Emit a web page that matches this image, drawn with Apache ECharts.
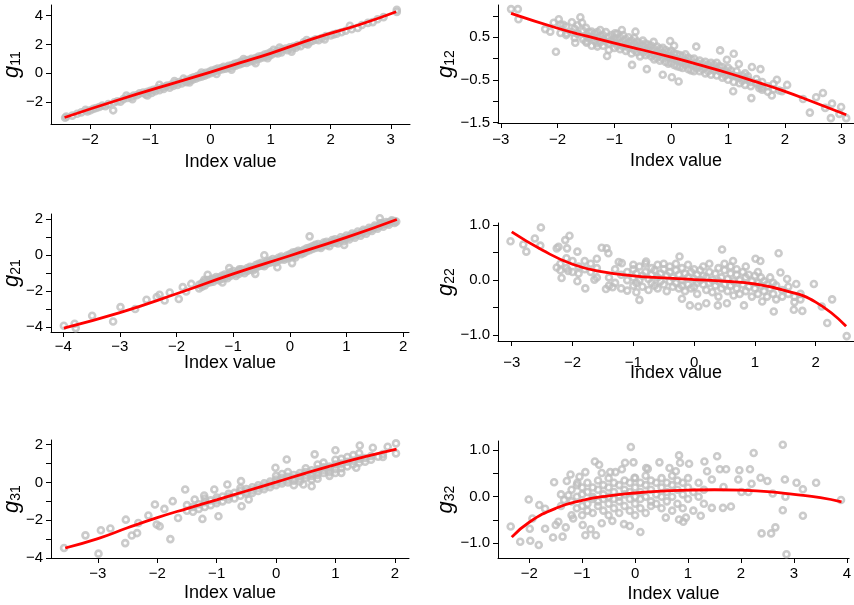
<!DOCTYPE html>
<html>
<head>
<meta charset="utf-8">
<script src="https://cdn.jsdelivr.net/npm/echarts@6/dist/echarts.min.js"></script>
<style>
  html, body { margin: 0; padding: 0; background: #fff; }
  #main { width: 854px; height: 605px; }
</style>
</head>
<body>
<div id="main"></div>
<script>
// ---- data ----
var g11Points = [
  [-2.42,-3.10],[-2.40,-3.02],[-2.30,-2.95],[-2.22,-2.82],[-2.15,-2.72],[-2.08,-2.55],[-2.05,-2.65],[-2.00,-2.58],
  [-1.95,-2.48],[-1.90,-2.42],[-1.85,-2.35],[-1.80,-2.25],[-1.75,-2.30],[-1.70,-2.15],[-1.62,-2.58],[-1.60,-2.02],
  [-1.55,-1.95],[-1.50,-1.98],[-1.45,-1.80],[-1.40,-1.55],[-1.38,-1.72],[-1.32,-1.65],[-1.28,-1.55],[-1.22,-1.52],
  [-1.18,-1.40],[-1.12,-1.35],[-1.08,-1.48],[-1.05,-1.30],[-1.00,-1.22],[-0.98,-1.38],[-0.95,-1.15],[-0.92,-1.25],
  [-0.88,-1.05],[-0.85,-1.18],[-0.80,-0.98],[-0.78,-1.10],[-0.75,-0.92],[-0.72,-0.85],[-0.68,-1.00],[-0.65,-0.78],
  [-0.62,-0.88],[-0.58,-0.70],[-0.55,-0.82],[-0.52,-0.62],[-0.48,-0.72],[-0.45,-0.38],[-0.42,-0.55],[-0.40,-0.62],
  [-0.38,-0.45],[-0.35,-0.52],[-0.32,-0.35],[-0.30,-0.45],[-0.28,-0.28],[-0.25,-0.38],[-0.22,-0.20],[-0.20,-0.30],
  [-0.18,-0.15],[-0.15,-0.25],[-0.12,-0.08],[-0.10,-0.18],[-0.08,0.02],[-0.05,-0.08],[-0.02,0.10],[0.00,0.00],
  [0.02,0.18],[0.05,0.08],[0.08,0.25],[0.10,0.15],[0.12,0.32],[0.15,0.22],[0.18,0.35],[0.20,0.28],[0.22,0.45],
  [0.25,0.32],[0.28,0.40],[0.30,0.52],[0.32,0.38],[0.35,0.55],[0.38,0.48],[0.40,0.65],[0.42,0.52],[0.45,0.70],
  [0.48,0.60],[0.50,0.80],[0.52,0.68],[0.55,0.75],[0.58,0.88],[0.60,0.72],[0.62,0.92],[0.65,0.82],[0.68,1.00],
  [0.70,0.90],[0.72,0.85],[0.75,1.05],[0.78,0.98],[0.80,1.15],[0.82,1.02],[0.85,1.20],[0.88,1.10],[0.90,1.30],
  [0.92,1.18],[0.95,1.35],[0.98,1.22],[1.00,1.45],[1.02,1.30],[1.05,1.62],[1.08,1.40],[1.10,1.52],[1.12,1.38],
  [1.15,1.58],[1.18,1.45],[1.20,1.65],[1.25,1.72],[1.28,1.60],[1.32,1.80],[1.35,1.68],[1.38,1.85],[1.42,1.78],
  [1.45,1.95],[1.50,1.88],[1.55,2.15],[1.58,2.05],[1.62,2.00],[1.65,2.18],[1.70,2.25],[1.75,2.35],[1.80,2.30],
  [1.85,2.45],[1.92,2.58],[2.00,2.62],[2.05,2.70],[2.10,2.75],[2.18,2.85],[2.25,2.95],[2.32,3.30],[2.35,3.05],
  [2.45,3.15],[2.52,3.35],[2.62,3.50],[2.70,3.55],[2.78,3.75],[2.88,3.90],[3.10,4.40],[3.10,4.25],
  [-1.30,-1.80],[-1.05,-1.55],[-0.85,-0.80],[-0.60,-0.55],[-0.35,-0.65],[-0.15,0.05],[0.10,-0.05],[0.35,0.25],
  [0.55,0.98],[0.75,0.70],[0.95,1.05],[1.15,1.78],[1.35,1.50],[1.60,2.30],[1.90,2.35]
];
var g11Fit = [[-2.43,-3.08],[-1.55,-1.88],[-0.5,-0.55],[0,0.08],[0.5,0.73],[1,1.38],[1.75,2.45],[2.5,3.4],[3.09,4.27]];

var g12Points = [
  [-2.82,1.16],[-2.70,1.16],[-2.69,0.92],[-2.22,0.69],[-2.13,0.63],[-2.03,0.16],[-1.98,0.92],[-2.07,0.84],
  [-1.90,0.79],[-1.84,0.59],[-1.60,0.97],[-1.57,0.84],[-1.66,0.59],[-1.69,0.37],[-1.49,0.37],[-1.40,0.63],
  [-1.25,0.67],[-1.31,0.36],[-1.13,0.06],[-0.99,0.59],[-0.87,0.67],[-0.63,0.63],[-0.69,-0.15],[-0.43,-0.25],
  [-0.31,0.39],[-0.15,-0.38],[-0.02,0.41],[0.13,-0.54],[0.01,-0.44],[0.44,0.28],[0.86,0.19],[0.98,-0.03],
  [1.10,0.11],[1.09,-0.77],[1.19,-0.13],[1.42,-0.20],[1.41,-0.93],[1.57,-0.25],[1.60,-0.73],[1.86,-0.50],
  [1.77,-0.87],[1.95,-0.77],[2.04,-0.62],[2.32,-0.95],[2.44,-1.27],[2.55,-0.91],[2.67,-0.81],[2.83,-1.06],
  [2.81,-1.40],[2.96,-1.30],[2.99,-1.14],[3.08,-1.40],[2.71,-1.16],
  [-1.95,0.80],[-1.95,0.60],[-1.85,0.75],[-1.85,0.55],[-1.75,0.62],[-1.75,0.85],[-1.70,0.70],[-1.70,0.48],
  [-1.65,0.58],[-1.65,0.78],[-1.55,0.65],[-1.55,0.45],[-1.50,0.55],[-1.50,0.72],[-1.50,0.40],[-1.45,0.62],
  [-1.45,0.48],[-1.40,0.50],[-1.40,0.30],[-1.35,0.58],[-1.35,0.42],[-1.30,0.48],[-1.30,0.62],[-1.30,0.28],
  [-1.25,0.52],[-1.25,0.38],[-1.20,0.45],[-1.20,0.55],[-1.20,0.30],[-1.15,0.40],[-1.15,0.62],[-1.10,0.50],
  [-1.10,0.35],[-1.10,0.20],[-1.05,0.42],[-1.05,0.55],[-1.00,0.38],[-1.00,0.48],[-1.00,0.25],[-0.95,0.45],
  [-0.95,0.30],[-0.95,0.58],[-0.90,0.35],[-0.90,0.50],[-0.90,0.22],[-0.85,0.40],[-0.85,0.28],[-0.85,0.55],
  [-0.80,0.32],[-0.80,0.45],[-0.80,0.18],[-0.75,0.38],[-0.75,0.25],[-0.75,0.50],[-0.70,0.30],[-0.70,0.42],
  [-0.70,0.12],[-0.65,0.35],[-0.65,0.20],[-0.65,0.48],[-0.60,0.28],[-0.60,0.40],[-0.60,0.15],[-0.55,0.22],
  [-0.55,0.35],[-0.55,0.05],[-0.50,0.30],[-0.50,0.15],[-0.50,0.42],[-0.45,0.20],[-0.45,0.08],[-0.45,0.35],
  [-0.40,0.25],[-0.40,0.12],[-0.40,0.32],[-0.35,0.18],[-0.35,0.05],[-0.35,0.30],[-0.30,0.22],[-0.30,0.10],
  [-0.30,-0.02],[-0.25,0.15],[-0.25,0.28],[-0.25,0.02],[-0.20,0.10],[-0.20,0.22],[-0.20,-0.05],[-0.15,0.12],
  [-0.15,0.00],[-0.15,0.25],[-0.10,0.08],[-0.10,-0.08],[-0.10,0.20],[-0.05,0.05],[-0.05,0.15],[-0.05,-0.12],
  [0.00,0.02],[0.00,0.18],[0.00,-0.10],[0.05,0.00],[0.05,0.12],[0.05,-0.15],[0.05,0.30],[0.10,-0.02],
  [0.10,0.10],[0.10,-0.18],[0.15,-0.05],[0.15,0.08],[0.15,-0.20],[0.20,-0.08],[0.20,0.05],[0.20,-0.22],
  [0.25,-0.05],[0.25,-0.15],[0.25,0.10],[0.30,-0.10],[0.30,0.02],[0.30,-0.25],[0.35,-0.12],[0.35,-0.02],
  [0.35,-0.28],[0.40,-0.15],[0.40,0.00],[0.40,-0.30],[0.45,-0.10],[0.45,-0.22],[0.50,-0.18],[0.50,-0.05],
  [0.50,-0.30],[0.55,-0.12],[0.55,-0.25],[0.60,-0.20],[0.60,-0.08],[0.60,-0.35],[0.65,-0.15],[0.65,-0.30],
  [0.70,-0.22],[0.70,-0.10],[0.70,-0.38],[0.75,-0.28],[0.75,-0.15],[0.80,-0.25],[0.80,-0.40],[0.80,-0.10],
  [0.85,-0.30],[0.85,-0.18],[0.90,-0.32],[0.90,-0.45],[0.90,-0.20],[0.95,-0.28],[0.95,-0.40],[1.00,-0.35],
  [1.00,-0.22],[1.00,-0.50],[1.05,-0.38],[1.05,-0.28],[1.10,-0.40],[1.10,-0.55],[1.15,-0.42],[1.15,-0.30],
  [1.20,-0.45],[1.20,-0.58],[1.25,-0.40],[1.25,-0.52],[1.30,-0.48],[1.30,-0.62],[1.30,-0.35],[1.35,-0.50],
  [1.35,-0.42],[1.40,-0.55],[1.40,-0.65],[1.50,-0.58],[1.50,-0.48],[1.55,-0.62],[1.55,-0.70],[1.60,-0.55],
  [1.60,-0.68],[1.70,-0.65],[1.70,-0.78],[1.80,-0.72],[1.80,-0.60],[1.90,-0.75]
];
var g12Fit = [[-2.82,1.06],[-2,0.71],[-1.5,0.53],[-1,0.36],[-0.5,0.2],[0,0.03],[0.5,-0.15],[1,-0.34],[1.5,-0.55],[2,-0.77],[2.5,-1.02],[3.08,-1.32]];

var g21Points = [
  [-3.99,-3.93],[-3.80,-3.82],[-3.78,-4.06],[-3.49,-3.37],[-3.12,-3.69],[-2.99,-2.89],[-2.73,-3.00],[-2.53,-2.48],
  [-2.35,-2.33],[-2.30,-2.20],[-2.21,-2.52],[-2.12,-2.08],[-1.96,-2.44],[-1.89,-1.78],[-1.74,-1.60],[-1.83,-2.02],
  [-1.51,-1.37],[-1.45,-1.09],[-1.19,-1.52],[-1.07,-0.72],[-0.89,-0.78],[-0.61,-1.04],[-0.45,0.00],[-0.22,-0.67],
  [0.04,-0.44],[0.35,1.05],[0.96,0.57],[1.61,1.78],[1.88,1.87],[1.59,2.06],
  [-1.60,-1.65],[-1.60,-1.85],[-1.55,-1.55],[-1.55,-1.75],[-1.50,-1.45],[-1.50,-1.68],[-1.45,-1.55],[-1.45,-1.38],
  [-1.40,-1.50],[-1.40,-1.35],[-1.35,-1.30],[-1.35,-1.48],[-1.30,-1.35],[-1.30,-1.22],[-1.25,-1.40],[-1.25,-1.25],
  [-1.20,-1.15],[-1.20,-1.32],[-1.15,-1.25],[-1.15,-1.08],[-1.10,-1.12],[-1.10,-1.28],[-1.05,-0.95],[-1.05,-1.15],
  [-1.00,-1.05],[-1.00,-0.88],[-0.95,-1.00],[-0.95,-1.15],[-0.90,-0.85],[-0.90,-1.05],[-0.85,-0.92],[-0.85,-0.78],
  [-0.80,-0.85],[-0.80,-1.00],[-0.75,-0.72],[-0.75,-0.88],[-0.70,-0.80],[-0.70,-0.65],[-0.65,-0.68],[-0.65,-0.85],
  [-0.60,-0.55],[-0.60,-0.72],[-0.55,-0.62],[-0.55,-0.48],[-0.50,-0.58],[-0.50,-0.42],[-0.45,-0.50],[-0.45,-0.62],
  [-0.40,-0.35],[-0.40,-0.48],[-0.35,-0.42],[-0.35,-0.30],[-0.30,-0.38],[-0.30,-0.22],[-0.25,-0.28],[-0.25,-0.40],
  [-0.20,-0.15],[-0.20,-0.30],[-0.15,-0.22],[-0.15,-0.08],[-0.10,-0.15],[-0.10,-0.25],[-0.05,-0.02],[-0.05,-0.18],
  [0.00,0.05],[0.00,-0.10],[0.05,0.15],[0.05,-0.05],[0.10,0.02],[0.10,0.18],[0.10,-0.12],[0.15,0.10],[0.15,0.25],
  [0.20,0.20],[0.20,0.05],[0.25,0.30],[0.25,0.12],[0.30,0.22],[0.30,0.38],[0.35,0.28],[0.35,0.42],[0.40,0.35],
  [0.40,0.50],[0.45,0.40],[0.45,0.58],[0.50,0.45],[0.50,0.62],[0.55,0.50],[0.55,0.40],[0.60,0.58],[0.60,0.70],
  [0.65,0.55],[0.65,0.75],[0.70,0.68],[0.70,0.50],[0.75,0.72],[0.75,0.85],[0.80,0.70],[0.80,0.88],[0.85,0.82],
  [0.85,0.65],[0.90,0.85],[0.90,1.00],[0.95,0.92],[0.95,0.78],[1.00,0.95],[1.00,1.10],[1.05,1.02],[1.05,0.88],
  [1.10,1.08],[1.10,1.20],[1.15,1.12],[1.15,0.98],[1.20,1.18],[1.20,1.32],[1.25,1.22],[1.25,1.08],[1.30,1.30],
  [1.30,1.42],[1.35,1.35],[1.35,1.20],[1.40,1.40],[1.40,1.52],[1.45,1.48],[1.45,1.35],[1.50,1.55],[1.50,1.65],
  [1.55,1.60],[1.55,1.48],[1.60,1.65],[1.60,1.78],[1.65,1.72],[1.65,1.58],[1.70,1.75],[1.70,1.85],[1.75,1.82],
  [1.75,1.70],[1.80,1.88],[1.80,1.95],[1.85,1.90],[1.85,1.80]
];
var g21Fit = [[-3.99,-4.06],[-3,-3.2],[-2,-2.15],[-1,-1.04],[0,-0.03],[1,0.99],[1.89,1.99]];

var g22Points = [
  [-3.02,0.71],[-2.81,0.65],[-2.76,0.52],[-2.62,0.76],[-2.53,0.63],[-2.52,0.96],[-2.26,0.58],[-2.26,0.23],
  [-2.23,0.61],[-2.12,0.73],[-2.05,0.81],[-2.09,0.58],[-2.18,0.04],[-2.07,0.17],[-1.92,0.52],[-1.92,-0.02],
  [-1.79,-0.15],[-1.64,0.01],[-1.60,0.39],[-1.52,0.59],[-1.44,0.58],[-1.41,0.49],[-1.45,-0.16],[-1.34,-0.13],
  [-1.24,0.33],[-1.19,0.31],[-1.10,-0.19],[-1.00,0.28],[-0.95,-0.22],[-0.90,-0.36],[-0.79,0.34],[-0.20,-0.34],
  [-0.24,0.43],[-0.07,-0.46],[0.07,-0.48],[0.20,-0.42],[0.39,-0.46],[0.46,0.56],[0.54,-0.42],[0.64,0.35],
  [0.82,-0.46],[1.01,0.39],[1.09,0.35],[1.12,-0.39],[1.39,0.49],[1.31,-0.57],[1.42,0.14],[1.53,0.02],
  [1.68,-0.07],[1.64,-0.54],[1.78,-0.56],[1.97,-0.07],[2.10,-0.48],[2.27,-0.35],[2.19,-0.78],[2.51,-1.02],
  [-1.40,0.05],[-1.40,-0.10],[-1.30,0.20],[-1.30,-0.05],[-1.20,0.10],[-1.20,-0.15],[-1.10,0.15],[-1.10,0.00],
  [-1.00,0.05],[-1.00,0.20],[-1.00,-0.10],[-0.95,0.12],[-0.95,-0.05],[-0.90,0.25],[-0.90,0.00],[-0.85,0.08],
  [-0.85,-0.12],[-0.80,0.15],[-0.80,0.30],[-0.75,0.02],[-0.75,-0.18],[-0.70,0.10],[-0.70,0.22],[-0.70,-0.05],
  [-0.65,0.18],[-0.65,-0.10],[-0.60,0.05],[-0.60,0.28],[-0.60,-0.15],[-0.55,0.12],[-0.55,-0.02],[-0.50,0.20],
  [-0.50,-0.08],[-0.50,0.30],[-0.45,0.08],[-0.45,-0.20],[-0.40,0.15],[-0.40,-0.02],[-0.40,0.25],[-0.35,0.05],
  [-0.35,-0.12],[-0.30,0.18],[-0.30,-0.05],[-0.30,0.30],[-0.25,0.10],[-0.25,-0.15],[-0.20,0.00],[-0.20,0.22],
  [-0.20,-0.10],[-0.15,0.12],[-0.15,-0.20],[-0.10,0.05],[-0.10,0.28],[-0.10,-0.08],[-0.05,0.15],[-0.05,-0.15],
  [0.00,0.02],[0.00,0.20],[0.00,-0.12],[0.05,0.10],[0.05,-0.05],[0.05,-0.25],[0.10,0.18],[0.10,0.00],
  [0.15,-0.08],[0.15,0.25],[0.15,0.08],[0.20,0.05],[0.20,-0.18],[0.25,0.15],[0.25,-0.05],[0.25,0.30],
  [0.30,0.00],[0.30,-0.22],[0.35,0.12],[0.35,-0.10],[0.40,0.22],[0.40,-0.02],[0.40,-0.30],[0.45,0.05],
  [0.45,-0.15],[0.50,0.18],[0.50,-0.08],[0.50,0.30],[0.55,0.02],[0.55,-0.20],[0.60,0.12],[0.60,-0.10],
  [0.60,0.25],[0.65,-0.02],[0.65,-0.28],[0.70,0.10],[0.70,-0.15],[0.70,0.20],[0.75,0.00],[0.75,-0.25],
  [0.80,0.15],[0.80,-0.08],[0.85,0.05],[0.85,-0.20],[0.85,0.25],[0.90,-0.12],[0.90,0.10],[0.95,-0.02],
  [0.95,-0.30],[1.00,0.08],[1.00,-0.15],[1.05,-0.05],[1.05,-0.25],[1.05,0.15],[1.10,-0.10],[1.10,0.05],
  [1.15,-0.20],[1.15,-0.02],[1.20,-0.08],[1.20,-0.30],[1.25,-0.15],[1.25,0.05],[1.30,-0.25],[1.30,-0.05],
  [1.35,-0.10],[1.35,-0.35],[1.45,-0.18],[1.45,-0.30],[1.55,-0.25],[1.55,-0.12],[1.65,-0.30],[1.65,-0.40],
  [1.75,-0.35],[1.75,-0.25],[-1.60,0.22],[-1.60,0.05],[-1.70,0.30],[-1.70,0.15],[-1.80,0.20],[-1.80,0.35],
  [-1.90,0.25],[-1.90,0.12],[-2.00,0.35],[-2.00,0.15],[-2.10,0.40],[-2.10,0.22],[-2.20,0.30],[-2.20,0.18]
];
var g22Fit = [[-3,0.88],[-2.5,0.55],[-2,0.29],[-1.5,0.15],[-1,0.08],[-0.5,0.04],[0,0.01],[0.5,-0.02],[1,-0.07],[1.5,-0.19],[2,-0.4],[2.5,-0.84]];

var g31Points = [
  [-3.57,-3.47],[-3.21,-2.80],[-2.99,-3.77],[-2.95,-2.53],[-2.79,-2.44],[-2.54,-3.21],[-2.53,-1.97],[-2.43,-2.81],
  [-2.34,-2.68],[-2.32,-2.15],[-2.15,-1.75],[-2.04,-1.17],[-2.01,-2.23],[-1.96,-2.32],[-1.78,-3.00],[-1.88,-1.40],
  [-1.74,-0.99],[-1.65,-1.88],[-1.53,-0.37],[-1.37,-0.90],[-1.24,-1.93],[-1.21,-0.69],[-1.04,-0.37],[-0.97,-1.79],
  [-0.82,-0.11],[-0.58,-1.26],[-0.59,0.07],[-0.46,-0.90],[0.18,1.22],[-0.01,0.78],[0.46,-0.11],[0.65,1.49],
  [1.00,1.71],[1.41,1.96],[1.63,1.84],[1.88,1.89],[2.02,2.07],[2.02,1.54],[1.72,1.36],[1.10,0.51],[1.35,0.78],
  [0.60,-0.20],
  [-1.50,-1.50],[-1.50,-1.20],[-1.40,-1.30],[-1.40,-1.55],[-1.30,-1.15],[-1.30,-1.40],[-1.20,-1.05],[-1.20,-1.30],
  [-1.20,-0.85],[-1.10,-0.95],[-1.10,-1.20],[-1.00,-0.80],[-1.00,-1.10],[-1.00,-0.95],[-0.90,-0.75],[-0.90,-1.00],
  [-0.80,-0.60],[-0.80,-0.90],[-0.80,-0.75],[-0.70,-0.55],[-0.70,-0.85],[-0.60,-0.45],[-0.60,-0.70],[-0.60,-0.30],
  [-0.50,-0.35],[-0.50,-0.60],[-0.50,-0.50],[-0.40,-0.25],[-0.40,-0.55],[-0.40,-0.40],[-0.30,-0.15],[-0.30,-0.45],
  [-0.30,-0.30],[-0.20,-0.05],[-0.20,-0.35],[-0.20,-0.20],[-0.10,0.05],[-0.10,-0.25],[-0.10,-0.10],[0.00,0.15],
  [0.00,-0.15],[0.00,0.35],[0.00,0.00],[0.10,0.25],[0.10,-0.05],[0.10,0.10],[0.10,0.45],[0.20,0.30],[0.20,0.00],
  [0.20,0.15],[0.20,0.55],[0.30,0.40],[0.30,0.10],[0.30,0.25],[0.30,-0.15],[0.40,0.50],[0.40,0.20],[0.40,0.35],
  [0.40,0.05],[0.50,0.55],[0.50,0.25],[0.50,0.40],[0.50,0.75],[0.60,0.65],[0.60,0.35],[0.60,0.50],[0.60,0.15],
  [0.70,0.70],[0.70,0.40],[0.70,0.55],[0.70,0.95],[0.70,0.20],[0.80,0.80],[0.80,0.50],[0.80,0.65],[0.80,1.05],
  [0.90,0.85],[0.90,0.55],[0.90,0.75],[0.90,0.35],[1.00,0.95],[1.00,0.70],[1.00,1.20],[1.00,0.50],[1.10,1.00],
  [1.10,0.75],[1.10,1.25],[1.20,1.10],[1.20,0.85],[1.20,1.35],[1.30,1.15],[1.30,0.95],[1.30,1.45],[1.40,1.25],
  [1.40,1.05],[1.40,1.55],[1.50,1.30],[1.50,1.10],[1.60,1.40],[1.60,1.20],[1.80,1.50],[1.80,1.35]
];
var g31Fit = [[-3.55,-3.47],[-3,-2.97],[-2.5,-2.4],[-2,-1.86],[-1.5,-1.38],[-1,-0.92],[-0.5,-0.45],[0,0.02],[0.5,0.5],[1,0.95],[1.5,1.37],[2.03,1.77]];

var g32Points = [
  [-2.35,-0.64],[-2.17,-0.97],[-1.98,-0.95],[-1.99,-0.69],[-2.01,-0.06],[-1.94,-0.47],[-1.82,-1.04],[-1.81,-0.18],
  [-1.70,-0.69],[-1.70,-0.26],[-1.55,-0.88],[-1.53,0.31],[-1.50,-0.61],[-1.45,-0.54],[-1.37,-0.86],[-1.34,-0.07],
  [-1.31,-0.66],[-1.29,0.34],[-1.26,0.03],[-1.22,0.48],[-1.17,-0.47],[-1.09,0.30],[-1.05,0.43],[-0.99,-0.61],
  [-0.94,0.53],[-0.94,-0.83],[-0.84,-0.70],[-0.76,0.76],[-0.74,-0.83],[-0.68,0.69],[-0.63,-0.57],[-0.63,0.51],
  [-0.47,0.53],[-0.43,-0.52],[-0.37,0.53],[-0.25,0.59],[-0.21,-0.59],[-0.19,0.73],[-0.10,-0.63],[-0.08,1.07],
  [-0.03,0.74],[-0.01,0.41],[0.10,-0.76],[0.21,0.62],[0.24,0.60],[0.46,0.74],[0.58,-0.45],[0.65,0.62],
  [0.77,0.55],[0.83,0.89],[0.85,0.73],[0.83,-0.49],[0.91,-0.54],[0.96,-0.45],[1.02,0.71],[1.24,-0.41],
  [1.31,0.76],[1.36,0.55],[1.45,0.37],[1.45,-0.24],[1.55,0.87],[1.60,0.59],[1.67,0.21],[1.66,-0.24],
  [1.72,0.59],[1.81,-0.21],[1.95,0.37],[1.97,0.57],[2.01,0.10],[2.14,0.10],[2.17,0.59],[2.20,0.28],
  [2.24,0.94],[2.37,0.41],[2.39,-0.79],[2.50,0.34],[2.57,-0.79],[2.60,0.07],[2.65,-0.66],[2.79,1.12],
  [2.79,-0.29],[2.83,0.37],[2.84,0.00],[2.86,-1.24],[3.05,0.30],[3.17,0.16],[3.17,-0.41],[3.42,0.30],
  [3.89,-0.07],
  [-1.00,-0.20],[-1.00,0.05],[-1.00,-0.40],[-1.00,0.20],[-0.90,0.10],[-0.90,-0.15],[-0.90,-0.30],[-0.90,0.30],
  [-0.80,-0.05],[-0.80,0.20],[-0.80,-0.35],[-0.80,0.00],[-0.70,0.15],[-0.70,-0.20],[-0.70,0.35],[-0.70,-0.10],
  [-0.60,0.05],[-0.60,-0.30],[-0.60,0.25],[-0.60,-0.05],[-0.50,0.20],[-0.50,-0.15],[-0.50,0.40],[-0.50,0.00],
  [-0.50,-0.40],[-0.40,0.10],[-0.40,-0.25],[-0.40,0.30],[-0.40,-0.05],[-0.30,0.25],[-0.30,-0.10],[-0.30,0.00],
  [-0.30,-0.35],[-0.20,0.15],[-0.20,-0.20],[-0.20,0.35],[-0.20,0.05],[-0.10,0.30],[-0.10,-0.05],[-0.10,0.10],
  [-0.10,-0.30],[0.00,0.20],[0.00,-0.15],[0.00,0.40],[0.00,0.00],[0.00,-0.40],[0.10,0.10],[0.10,-0.25],
  [0.10,0.30],[0.10,-0.05],[0.20,0.25],[0.20,0.00],[0.20,-0.35],[0.20,0.45],[0.30,0.15],[0.30,-0.10],
  [0.30,0.35],[0.30,-0.20],[0.40,0.05],[0.40,0.30],[0.40,-0.15],[0.50,0.20],[0.50,-0.25],[0.50,0.40],
  [0.50,0.00],[0.60,0.10],[0.60,-0.10],[0.60,0.30],[0.70,0.25],[0.70,0.00],[0.70,-0.30],[0.70,0.45],
  [0.80,0.15],[0.80,-0.15],[0.80,0.35],[0.90,0.05],[0.90,0.30],[0.90,-0.25],[1.00,0.20],[1.00,-0.05],
  [1.00,0.40],[1.10,0.10],[1.10,-0.30],[1.20,0.30],[1.20,0.00],[1.30,0.15],[1.30,-0.15],[-1.20,-0.10],
  [-1.20,0.15],[-1.20,-0.40],[-1.10,0.00],[-1.10,-0.25],[-1.10,0.25],[-1.40,-0.20],[-1.40,0.05]
];
var g32Fit = [[-2.33,-0.87],[-2,-0.55],[-1.5,-0.25],[-1,-0.08],[-0.5,0.02],[0,0.08],[0.5,0.12],[1,0.14],[1.5,0.15],[2,0.14],[2.5,0.11],[3,0.05],[3.5,-0.02],[3.9,-0.11]];

// tick positions
var g11XTicks = [-2, -1, 0, 1, 2, 3],  g11YTicks = [-2, 0, 2, 4],           g11YLabels = [-2, 0, 2, 4];
var g12XTicks = [-3, -2, -1, 0, 1, 2, 3], g12YTicks = [-1.5, -1, -0.5, 0, 0.5, 1], g12YLabels = [-1.5, -0.5, 0.5];
var g21XTicks = [-4, -3, -2, -1, 0, 1, 2], g21YTicks = [-4, -3, -2, -1, 0, 1, 2], g21YLabels = [-4, -2, 0, 2];
var g22XTicks = [-3, -2, -1, 0, 1, 2], g22YTicks = [-1, -0.5, 0, 0.5, 1], g22YLabels = [-1, 0, 1];
var g31XTicks = [-3, -2, -1, 0, 1, 2], g31YTicks = [-4, -3, -2, -1, 0, 1, 2], g31YLabels = [-4, -2, 0, 2];
var g32XTicks = [-2, -1, 0, 1, 2, 3, 4], g32YTicks = [-1, -0.5, 0, 0.5, 1], g32YLabels = [-1, 0, 1];

// ---- layout ----
var FONT = '"Liberation Sans", Arial, Helvetica, sans-serif';

function fmt(dec) {
  return function (v) {
    var s = Math.abs(v).toFixed(dec);
    return (v < 0 ? '\u2212' : '') + s;
  };
}

var panels = [
  { sub: '11', pts: g11Points, fit: g11Fit, xt: g11XTicks, yt: g11YTicks, yl: g11YLabels, dec: 0, ygap: 28,
    grid: { left: 48, top: 5, width: 362, height: 119 }, xr: [-2.655, 3.32], yr: [-3.53, 4.74], gap: 29, lm: 8 },
  { sub: '12', pts: g12Points, fit: g12Fit, xt: g12XTicks, yt: g12YTicks, yl: g12YLabels, dec: 1, ygap: 41,
    grid: { left: 498, top: 5, width: 356, height: 118 }, xr: [-3.05, 3.217], yr: [-1.514, 1.256], gap: 29, lm: 9 },
  { sub: '21', pts: g21Points, fit: g21Fit, xt: g21XTicks, yt: g21YTicks, yl: g21YLabels, dec: 0, ygap: 28,
    grid: { left: 48, top: 214, width: 361, height: 118 }, xr: [-4.217, 2.105], yr: [-4.278, 2.294], gap: 22, lm: 7 },
  { sub: '22', pts: g22Points, fit: g22Fit, xt: g22XTicks, yt: g22YTicks, yl: g22YLabels, dec: 1, ygap: 41,
    grid: { left: 498, top: 223, width: 356, height: 118 }, xr: [-3.226, 2.63], yr: [-1.109, 1.042], gap: 23, lm: 14 },
  { sub: '31', pts: g31Points, fit: g31Fit, xt: g31XTicks, yt: g31YTicks, yl: g31YLabels, dec: 0, ygap: 28,
    grid: { left: 48, top: 440, width: 361, height: 118 }, xr: [-3.79, 2.239], yr: [-4.0, 2.25], gap: 26, lm: 8 },
  { sub: '32', pts: g32Points, fit: g32Fit, xt: g32XTicks, yt: g32YTicks, yl: g32YLabels, dec: 1, ygap: 41,
    grid: { left: 498, top: 441, width: 356, height: 117 }, xr: [-2.59, 4.043], yr: [-1.32, 1.2], gap: 27, lm: 8 }
];

var axisLine = { show: true, onZero: false, lineStyle: { color: '#000', width: 1 } };
var option = { animation: false, backgroundColor: '#fff', grid: [], xAxis: [], yAxis: [], series: [] };

panels.forEach(function (p, i) {
  option.grid.push({ left: p.grid.left, top: p.grid.top, width: p.grid.width, height: p.grid.height, containLabel: false });
  option.xAxis.push({
    gridIndex: i, type: 'value', min: p.xr[0], max: p.xr[1],
    axisLine: axisLine, splitLine: { show: false },
    axisTick: { show: true, length: 5, customValues: p.xt, lineStyle: { color: '#000' } },
    axisLabel: { customValues: p.xt, formatter: fmt(0), margin: p.lm, color: '#000', fontSize: 15, fontFamily: FONT },
    name: 'Index value', nameLocation: 'middle', nameGap: p.gap, nameMoveOverlap: false,
    nameTextStyle: { color: '#000', fontSize: 18, fontFamily: FONT }
  });
  option.yAxis.push({
    gridIndex: i, type: 'value', min: p.yr[0], max: p.yr[1],
    axisLine: axisLine, splitLine: { show: false },
    axisTick: { show: true, length: 5, customValues: p.yt, lineStyle: { color: '#000' } },
    axisLabel: { customValues: p.yl, formatter: fmt(p.dec), margin: 8, color: '#000', fontSize: 15, fontFamily: FONT },
    name: '{g|g}{s|' + p.sub + '}', nameLocation: 'middle', nameRotate: 90, nameGap: p.ygap, nameMoveOverlap: false,
    nameTextStyle: {
      color: '#000', fontFamily: FONT,
      rich: {
        g: { fontSize: 22, fontStyle: 'italic', fontFamily: FONT, color: '#000', verticalAlign: 'top', lineHeight: 22 },
        s: { fontSize: 14, fontFamily: FONT, color: '#000', verticalAlign: 'bottom', lineHeight: 22, padding: [6, 0, 0, 0] }
      }
    }
  });
  option.series.push({
    type: 'scatter', xAxisIndex: i, yAxisIndex: i, data: p.pts,
    symbol: 'circle', symbolSize: 6, silent: true,
    itemStyle: { color: 'rgba(0,0,0,0)', borderColor: '#bebebe', borderWidth: 2.6 }
  });
  option.series.push({
    type: 'line', xAxisIndex: i, yAxisIndex: i, data: p.fit, smooth: true,
    showSymbol: false, silent: true, z: 5,
    lineStyle: { color: '#ff0000', width: 2.8 }
  });
});

var chart = echarts.init(document.getElementById('main'));
chart.setOption(option);
</script>
</body>
</html>
